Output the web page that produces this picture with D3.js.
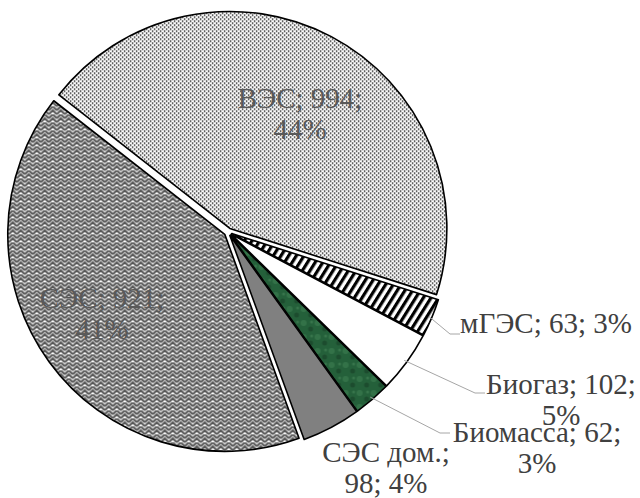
<!DOCTYPE html>
<html>
<head>
<meta charset="utf-8">
<script src="https://cdn.jsdelivr.net/npm/d3@7"></script>
<style>
  body { margin: 0; background: #fff; }
  svg { display: block; }
</style>
</head>
<body>
<svg id="chart" width="640" height="498"></svg>
<script>
// data
const names = ['ВЭС', 'мГЭС', 'Биогаз', 'Биомасса', 'СЭС дом.', 'СЭС'];
const values = [994, 63, 102, 62, 98, 921];
const percents = ['44%', '3%', '5%', '3%', '4%', '41%'];

// where each label sits (layout, not data)
const labelLines = [
  ['ВЭС; 994;', '44%'],
  ['мГЭС; 63; 3%'],
  ['Биогаз; 102;', '5%'],
  ['Биомасса; 62;', '3%'],
  ['СЭС дом.;', '98; 4%'],
  ['СЭС; 921;', '41%']
];
const labelAt = [
  [300, 108], [546, 333], [561, 394], [537, 442], [386, 462], [102, 308]
];
const leaderEnd = [null, [460, 334], [485, 393], [450, 433], null, null];
const insideLabel = [true, false, false, false, false, true];

const cx = 228, cy = 232, r = 217, explode = 4;

const svg = d3.select('#chart');
const defs = svg.append('defs');

/// patterns
const dots = defs.append('pattern').attr('id', 'dots')
  .attr('patternUnits', 'userSpaceOnUse').attr('width', 4).attr('height', 4);
dots.append('rect').attr('width', 4).attr('height', 4).attr('fill', '#fff');
dots.append('rect').attr('x', 0).attr('y', 0).attr('width', 1.4).attr('height', 1.4).attr('fill', '#000');
dots.append('rect').attr('x', 2).attr('y', 2).attr('width', 1.4).attr('height', 1.4).attr('fill', '#000');

const zig = defs.append('pattern').attr('id', 'zig')
  .attr('patternUnits', 'userSpaceOnUse').attr('width', 8).attr('height', 8);
zig.append('rect').attr('width', 8).attr('height', 8).attr('fill', '#fff');
zig.append('path').attr('d', 'M0,4 L4,0 L8,4 M0,8 L4,4 L8,8 M-4,4 L0,0 M8,0 L12,4')
  .attr('fill', 'none').attr('stroke', '#555').attr('stroke-width', 2);

const stripes = defs.append('pattern').attr('id', 'stripes')
  .attr('patternUnits', 'userSpaceOnUse').attr('width', 6.5).attr('height', 6.5)
  .attr('patternTransform', 'rotate(32)');
stripes.append('rect').attr('width', 6.5).attr('height', 6.5).attr('fill', '#fff');
stripes.append('rect').attr('width', 3.2).attr('height', 6.5).attr('fill', '#000');

const marble = defs.append('pattern').attr('id', 'marble')
  .attr('patternUnits', 'userSpaceOnUse').attr('width', 14).attr('height', 14);
marble.append('rect').attr('width', 14).attr('height', 14).attr('fill', '#24603a');
marble.append('circle').attr('cx', 3).attr('cy', 4).attr('r', 3).attr('fill', '#3d7f52').attr('opacity', 0.6);
marble.append('circle').attr('cx', 10).attr('cy', 10).attr('r', 2.5).attr('fill', '#183f27').attr('opacity', 0.6);
marble.append('circle').attr('cx', 11).attr('cy', 3).attr('r', 1.5).attr('fill', '#4a8a5c').attr('opacity', 0.5);

const fills = ['url(#dots)', 'url(#stripes)', '#fff', 'url(#marble)', '#808080', 'url(#zig)'];

const pie = d3.pie().sort(null).startAngle(-52 * Math.PI / 180).endAngle(308 * Math.PI / 180);
const arcs = pie(values);
const arc = d3.arc().innerRadius(0).outerRadius(r);

const offset = (d) => {
  const a = (d.startAngle + d.endAngle) / 2;
  return [Math.sin(a) * explode, -Math.cos(a) * explode];
};

const g = svg.append('g').attr('transform', `translate(${cx},${cy})`);

g.selectAll('path.slice')
  .data(arcs)
  .enter().append('path')
  .attr('class', 'slice')
  .attr('d', arc)
  .attr('transform', (d) => `translate(${offset(d)})`)
  .attr('fill', (d, i) => fills[i])
  .attr('stroke', '#000')
  .attr('stroke-width', 1.6)
  .attr('stroke-linejoin', 'round');

/// leader lines
arcs.forEach((d, i) => {
  if (!leaderEnd[i]) return;
  const a = (d.startAngle + d.endAngle) / 2;
  const [ox, oy] = offset(d);
  const sx = cx + ox + Math.sin(a) * (r - 3);
  const sy = cy + oy - Math.cos(a) * (r - 3);
  const e = leaderEnd[i];
  svg.append('path')
    .attr('d', d3.line()([[sx, sy], [e[0] - 10, e[1]], e]))
    .attr('fill', 'none')
    .attr('stroke', '#a6a6a6')
    .attr('stroke-width', 1);
});

/// labels
const labels = svg.append('g')
  .attr('text-anchor', 'middle')
  .attr('font-family', '"Liberation Serif", "Times New Roman", serif')
  .attr('font-size', 29);
labelLines.forEach((lines, i) => {
  const t = labels.append('text')
    .attr('x', labelAt[i][0])
    .attr('y', labelAt[i][1])
    .attr('fill', insideLabel[i] ? '#595959' : '#404040');
  lines.forEach((s, k) => {
    t.append('tspan')
      .attr('x', labelAt[i][0])
      .attr('dy', k === 0 ? 0 : 31)
      .text(s);
  });
});
</script>
</body>
</html>
